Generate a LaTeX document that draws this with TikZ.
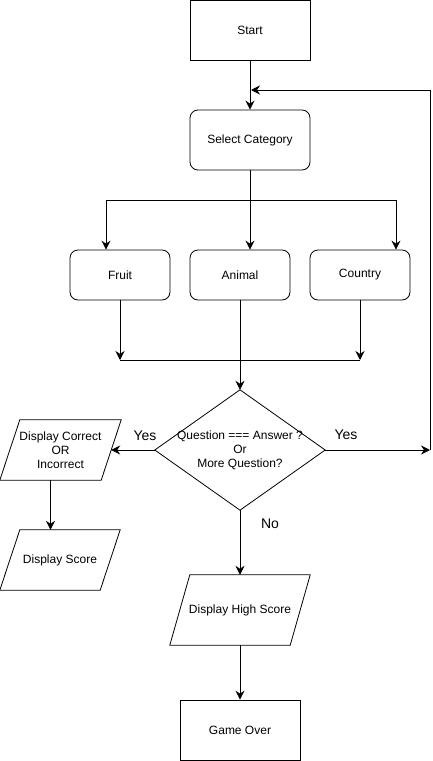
\documentclass[tikz,border=0pt]{standalone}
\usepackage{fontspec}
\setmainfont{Liberation Sans}
\usetikzlibrary{arrows.meta}
\begin{document}
\begin{tikzpicture}[x=1bp,y=-1bp,
  every node/.style={font=\fontsize{12bp}{14bp}\selectfont, inner sep=0pt, align=center},
  box/.style={draw, line width=0.8bp, minimum width=120bp, minimum height=60bp},
  rbox/.style={draw, line width=0.8bp, rounded corners=8bp, minimum width=100bp, minimum height=50bp},
  plain/.style={minimum width=#1, minimum height=60bp},
  lbl/.style={font=\fontsize{14bp}{16bp}\selectfont},
  ln/.style={line width=0.8bp},
  arr/.style={line width=0.8bp, -{Stealth[length=9bp,width=9bp,inset=3bp]}}
]
\useasboundingbox (0,0) rectangle (432,761);
% nodes
\node[box] (start) at (250,30) {Start};
\node[rbox, minimum width=120bp, minimum height=60bp] (sel) at (250,140) {Select Category};
\node[rbox] (fruit) at (120,275) {Fruit};
\node[rbox] (animal) at (240,275) {Animal};
\node[rbox] (country) at (360,275) {Country};
\node[minimum width=170bp, minimum height=120bp] (q) at (240,450) {Question === Answer ?\\Or\\More Question?};
\draw[ln] (q.north) -- (q.east) -- (q.south) -- (q.west) -- cycle;
\node[plain=121bp] (dc) at (60.5,450) {Display Correct\\OR\\Incorrect};
\draw[ln] ([xshift=20bp]dc.north west) -- (dc.north east) -- ([xshift=-20bp]dc.south east) -- (dc.south west) -- cycle;
\node[plain=120bp] (ds) at (60,560) {Display Score};
\draw[ln] ([xshift=20bp]ds.north west) -- (ds.north east) -- ([xshift=-20bp]ds.south east) -- (ds.south west) -- cycle;
\node[plain=140bp, minimum height=70bp] (dhs) at (240,610) {Display High Score};
\draw[ln] ([xshift=20bp]dhs.north west) -- (dhs.north east) -- ([xshift=-20bp]dhs.south east) -- (dhs.south west) -- cycle;
\node[box] (go) at (240,730) {Game Over};
% labels
\node[lbl] (yl) at (145,436) {Yes};
\node[lbl] (yr) at (346,435) {Yes};
\node[lbl] (no) at (270,524) {No};
% connectors
\draw[arr] (start) -- (sel);
\coordinate (br) at (250,200);
\coordinate (bl) at (106,200);
\coordinate (bc) at (396,200);
\draw[ln] (sel.south) -- (br);
\draw[ln] (bl) -- (bc);
\draw[arr] (bl) -- (bl |- fruit.north);
\draw[arr] (br) -- (br |- animal.north);
\draw[arr] (bc) -- (bc |- country.north);
\coordinate (ml) at (120,360);
\coordinate (mr) at (360,360);
\draw[arr] (fruit.south) -- (ml);
\draw[arr] (country.south) -- (mr);
\draw[ln] (ml) -- (mr);
\draw[arr] (animal.south) -- (q.north);
\draw[arr] (q.west) -- ([xshift=-10bp]dc.east);
\draw[arr] ([xshift=-10bp]dc.south) -- ([xshift=-10bp]dc.south |- ds.north);
\draw[arr] (q.south) -- (dhs.north);
\draw[arr] (dhs.south) -- (go.north);
\coordinate (re) at (430,450);
\coordinate (rt) at (430,90);
\coordinate (lt) at (251,90);
\draw[arr] (q.east) -- (re);
\draw[arr] (re) -- (rt) -- (lt);
\end{tikzpicture}
\end{document}
